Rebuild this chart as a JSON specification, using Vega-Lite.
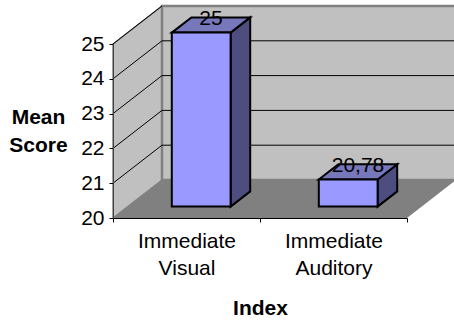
{
  "$schema": "https://vega.github.io/schema/vega-lite/v6.json",
  "width": 294,
  "height": 174,
  "autosize": {"type": "none"},
  "padding": {"left": 113, "top": 44, "right": 47, "bottom": 102},
  "background": "white",
  "config": {"view": {"stroke": null}, "font": "Liberation Sans"},
  "datasets": {
    "scores": [
      {"index": "Immediate Visual", "slot": 0.5, "score": 25},
      {"index": "Immediate Auditory", "slot": 1.5, "score": 20.78}
    ],
    "gridScores": [{"score": 21}, {"score": 22}, {"score": 23}, {"score": 24}, {"score": 25}],
    "wallDepth": [{"depth": 0}, {"depth": 1}],
    "floorOutline": [{"across": 0}, {"across": 0.3333}, {"across": 2}, {"across": 2.3333}],
    "backWall": [{"left": 0.3333, "right": 2.3333, "low": 21.092, "high": 26.092}]
  },
  "layer": [
    {
      "layer": [
        {
          "data": {"name": "wallDepth"},
          "transform": [
            {"calculate": "datum.depth / 3", "as": "sx"},
            {"calculate": "25 + datum.depth * 1.092", "as": "top"},
            {"calculate": "20 + datum.depth * 1.092", "as": "bottom"}
          ],
          "mark": {"type": "area", "orient": "vertical", "color": "#c0c0c0", "stroke": "#808080", "strokeWidth": 1.5},
          "encoding": {
            "x": {"field": "sx", "type": "quantitative", "scale": {"domain": [0, 2], "nice": false, "zero": false}, "axis": null},
            "y": {"field": "top", "type": "quantitative", "stack": null, "scale": {"domain": [20, 25], "nice": false, "zero": false}},
            "y2": {"field": "bottom"}
          }
        },
        {
          "data": {"name": "backWall"},
          "mark": {"type": "rect", "color": "#c0c0c0", "stroke": "#808080", "strokeWidth": 2.5},
          "encoding": {
            "x": {"field": "left", "type": "quantitative", "scale": {"domain": [0, 2], "nice": false, "zero": false}, "axis": null},
            "x2": {"field": "right"},
            "y": {"field": "low", "type": "quantitative", "scale": {"domain": [20, 25], "nice": false, "zero": false}},
            "y2": {"field": "high"}
          }
        },
        {
          "data": {"name": "floorOutline"},
          "transform": [
            {"calculate": "20 + min(datum.across, 0.3333) * 3.276", "as": "top"},
            {"calculate": "20 + max(datum.across - 2, 0) * 3.276", "as": "bottom"}
          ],
          "mark": {"type": "area", "orient": "vertical", "color": "#808080"},
          "encoding": {
            "x": {"field": "across", "type": "quantitative", "scale": {"domain": [0, 2], "nice": false, "zero": false}, "axis": null},
            "y": {"field": "top", "type": "quantitative", "stack": null, "scale": {"domain": [20, 25], "nice": false, "zero": false}},
            "y2": {"field": "bottom"}
          }
        },
        {
          "data": {"name": "gridScores"},
          "transform": [{"calculate": "datum.score + 1.092", "as": "lifted"}],
          "mark": {"type": "rule", "color": "black", "strokeWidth": 1},
          "encoding": {
            "x": {"datum": 0, "type": "quantitative", "scale": {"domain": [0, 2], "nice": false, "zero": false}, "axis": null},
            "x2": {"datum": 0.3333},
            "y": {"field": "score", "type": "quantitative", "scale": {"domain": [20, 25], "nice": false, "zero": false}},
            "y2": {"field": "lifted"}
          }
        },
        {
          "data": {"name": "gridScores"},
          "transform": [
            {"filter": "datum.score < 25"},
            {"calculate": "datum.score + 1.092", "as": "lifted"}
          ],
          "mark": {"type": "rule", "color": "black", "strokeWidth": 1},
          "encoding": {
            "x": {"datum": 0.3333, "type": "quantitative", "scale": {"domain": [0, 2], "nice": false, "zero": false}, "axis": null},
            "x2": {"datum": 2.3333},
            "y": {"field": "lifted", "type": "quantitative", "scale": {"domain": [20, 25], "nice": false, "zero": false}}
          }
        },
        {
          "data": {"name": "scores"},
          "transform": [
            {"calculate": "[0, 1]", "as": "along"},
            {"flatten": ["along"]},
            {"calculate": "datum.slot + 0.3 + datum.along * 0.1333", "as": "sx"},
            {"calculate": "datum.score + 0.3276 + datum.along * 0.4368", "as": "top"},
            {"calculate": "20.3276 + datum.along * 0.4368", "as": "bottom"}
          ],
          "mark": {"type": "area", "orient": "vertical", "color": "#4d4d80", "stroke": "black", "strokeWidth": 2},
          "encoding": {
            "detail": {"field": "index"},
            "x": {"field": "sx", "type": "quantitative", "scale": {"domain": [0, 2], "nice": false, "zero": false}, "axis": null},
            "y": {"field": "top", "type": "quantitative", "stack": null, "scale": {"domain": [20, 25], "nice": false, "zero": false}},
            "y2": {"field": "bottom"}
          }
        },
        {
          "data": {"name": "scores"},
          "transform": [
            {"calculate": "[0, 0.1333, 0.4, 0.5333]", "as": "along"},
            {"flatten": ["along"]},
            {"calculate": "datum.slot - 0.1 + datum.along", "as": "sx"},
            {"calculate": "datum.score + 0.3276 + min(datum.along, 0.1333) * 3.276", "as": "top"},
            {"calculate": "datum.score + 0.3276 + max(datum.along - 0.4, 0) * 3.276", "as": "bottom"}
          ],
          "mark": {"type": "area", "orient": "vertical", "color": "#7777bb", "stroke": "black", "strokeWidth": 2},
          "encoding": {
            "detail": {"field": "index"},
            "x": {"field": "sx", "type": "quantitative", "scale": {"domain": [0, 2], "nice": false, "zero": false}, "axis": null},
            "y": {"field": "top", "type": "quantitative", "stack": null, "scale": {"domain": [20, 25], "nice": false, "zero": false}},
            "y2": {"field": "bottom"}
          }
        },
        {
          "data": {"name": "scores"},
          "transform": [
            {"calculate": "datum.slot - 0.1", "as": "left"},
            {"calculate": "datum.slot + 0.3", "as": "right"},
            {"calculate": "datum.score + 0.3276", "as": "top"},
            {"calculate": "20.3276", "as": "bottom"}
          ],
          "mark": {"type": "rect", "color": "#9999ff", "stroke": "black", "strokeWidth": 2},
          "encoding": {
            "x": {"field": "left", "type": "quantitative", "scale": {"domain": [0, 2], "nice": false, "zero": false}, "axis": null},
            "x2": {"field": "right"},
            "y": {"field": "top", "type": "quantitative", "scale": {"domain": [20, 25], "nice": false, "zero": false}},
            "y2": {"field": "bottom"}
          }
        }
      ]
    },
    {
      "data": {"name": "scores"},
      "transform": [
        {"calculate": "datum.score + 0.7644", "as": "labelHeight"},
        {"calculate": "replace(toString(datum.score), '.', ',')", "as": "label"}
      ],
      "mark": {"type": "text", "fontSize": 21, "color": "black", "dx": 24.5, "dy": 2, "baseline": "middle", "align": "center"},
      "encoding": {
        "x": {
          "field": "index", "type": "nominal", "sort": null,
          "scale": {"type": "band"},
          "axis": {
            "title": "Index", "titleFontSize": 21, "titleFontWeight": "bold", "titleColor": "black",
            "titleY": 90, "titleBaseline": "middle",
            "labelAngle": 0, "labelFontSize": 21, "labelColor": "black", "labelLineHeight": 27, "labelPadding": 19,
            "labelExpr": "split(datum.label, ' ')", "labelBaseline": "middle", "tickBand": "extent", "tickSize": 4,
            "tickColor": "black", "domainColor": "black", "zindex": 1
          }
        },
        "y": {
          "field": "labelHeight", "type": "quantitative",
          "scale": {"domain": [20, 25], "nice": false, "zero": false},
          "axis": {
            "title": ["Mean", "Score"], "titleAngle": 0, "titleFontSize": 21, "titleFontWeight": "bold",
            "titleColor": "black", "titleX": -75, "titleY": 73, "titleAlign": "center", "titleBaseline": "middle",
            "titleLineHeight": 28, "labelFontSize": 21, "labelColor": "black", "labelPadding": 5,
            "labelOverlap": false, "labelBound": false, "labelFlush": false,
            "tickCount": 6, "values": [20, 21, 22, 23, 24, 25], "format": "d", "tickSize": 4, "tickColor": "black",
            "domain": true, "ticks": true, "domainColor": "#404040", "grid": false, "zindex": 1
          }
        },
        "text": {"field": "label"}
      }
    }
  ],
  "resolve": {"scale": {"x": "independent"}}
}
